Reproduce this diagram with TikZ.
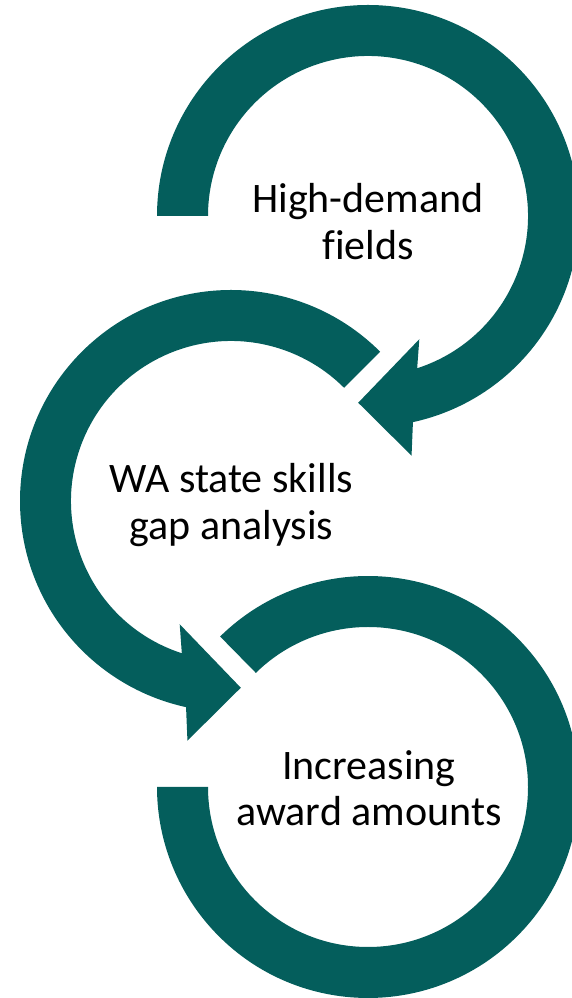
\documentclass[tikz,border=0pt]{standalone}
\usepackage{fontspec}
\setmainfont{Carlito}[Ligatures=CommonOff]
\usetikzlibrary{calc}
\definecolor{ringteal}{RGB}{4,94,92}
\begin{document}
\begin{tikzpicture}[x=1pt,y=1pt,
  ring/.style={fill=ringteal,draw=none},
  lbl/.style={font=\fontsize{42}{46.8}\selectfont, align=center, anchor=base, text=black, inner sep=0pt}]
\useasboundingbox (0,0) rectangle (572,998);
\clip (0,0) rectangle (572,998);
\coordinate (c1) at (368,782);
\coordinate (c2) at (231,497);
\coordinate (c3) at (368,211);
% top arrow
\fill[ring] ($(c1)+(180:211)$) arc[start angle=180,end angle=-77.7,radius=211]
  -- ($(c1)+(-79.7:243.6)$) -- ($(c1)+(-93:187)$) -- ($(c1)+(-67.4:133.5)$)
  -- ($(c1)+(-72.1:160)$) arc[start angle=-72.1,end angle=180,radius=160] -- cycle;
% middle arrow
\fill[ring] ($(c2)+(45:211)$) arc[start angle=45,end angle=257.7,radius=211]
  -- ($(c2)+(259.7:243.6)$) -- ($(c2)+(273:187)$) -- ($(c2)+(247.4:133.5)$)
  -- ($(c2)+(252.1:160)$) arc[start angle=252.1,end angle=45,radius=160] -- cycle;
% bottom ring
\fill[ring] ($(c3)+(134.5:211)$) arc[start angle=134.5,end angle=-180,radius=211]
  -- ($(c3)+(-180:160)$) arc[start angle=-180,end angle=134.5,radius=160] -- cycle;
\node[lbl] (t1) at (368,738.7) {High-demand\\fields};
\node[lbl] (t2) at (231.5,458.7) {WA state skills\\gap analysis};
\node[lbl] (t3) at (369,172) {Increasing\\award amounts};
\end{tikzpicture}
\end{document}
